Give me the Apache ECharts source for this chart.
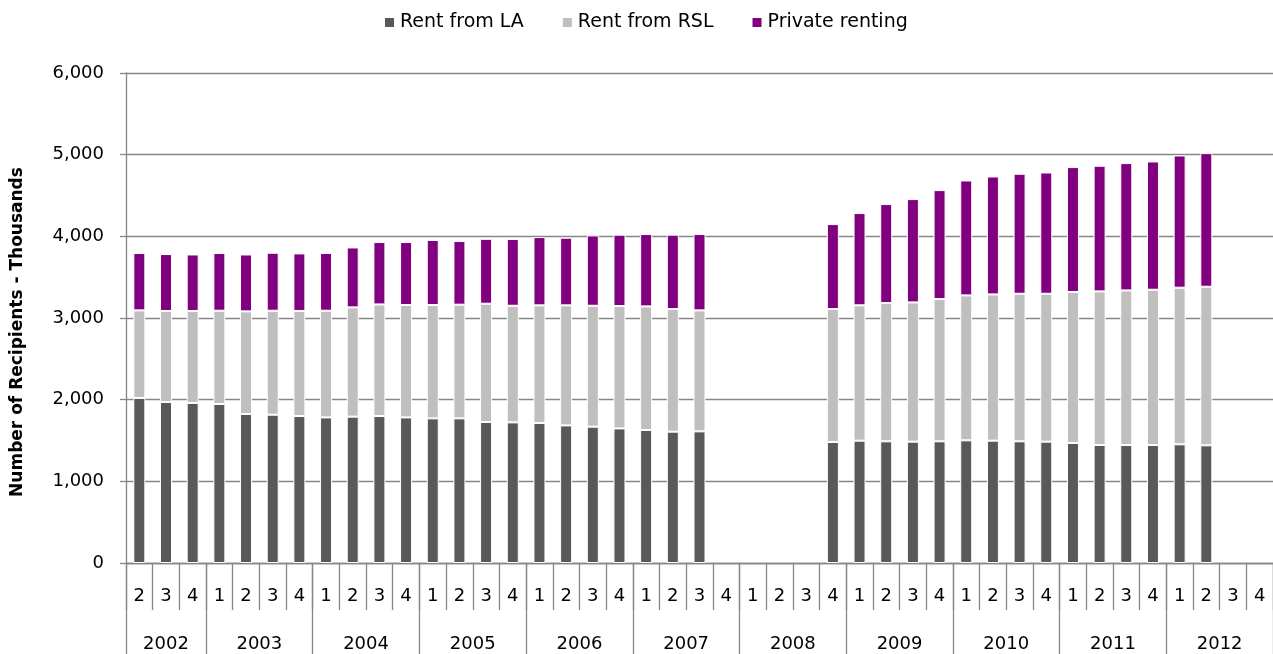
<!DOCTYPE html>
<html>
<head>
<meta charset="utf-8">
<title>Housing benefit recipients by tenure</title>
<script src="https://cdn.jsdelivr.net/npm/echarts@6/dist/echarts.min.js"></script>
<style>
  html, body { margin: 0; padding: 0; background: #ffffff; }
  #chart { width: 1273px; height: 654px; }
</style>
</head>
<body>
<div id="chart"></div>
<script>
// Quarters from 2002 Q2 to 2012 Q4
const years = ['2002', '2003', '2004', '2005', '2006', '2007', '2008', '2009', '2010', '2011', '2012'];
const quartersPerYear = [3, 4, 4, 4, 4, 4, 4, 4, 4, 4, 4];
const quarterLabels = [
  '2', '3', '4',
  '1', '2', '3', '4',  '1', '2', '3', '4',  '1', '2', '3', '4',
  '1', '2', '3', '4',  '1', '2', '3', '4',  '1', '2', '3', '4',
  '1', '2', '3', '4',  '1', '2', '3', '4',  '1', '2', '3', '4',
  '1', '2', '3', '4'
];

// Recipients, thousands (null = no figure for that quarter)
const rentFromLA = [
  2021, 1972, 1960,
  1947, 1825, 1816, 1800,
  1783, 1792, 1800, 1783,
  1771, 1771, 1727, 1722,
  1715, 1685, 1669, 1648,
  1629, 1608, 1612, null,
  null, null, null, 1482,
  1498, 1490, 1486, 1490,
  1502, 1498, 1490, 1486,
  1470, 1445, 1445, 1445,
  1453, 1441, null, null
];
const rentFromRSL = [
  1072, 1114, 1126,
  1142, 1256, 1273, 1286,
  1306, 1338, 1366, 1376,
  1388, 1392, 1448, 1428,
  1440, 1470, 1481, 1498,
  1513, 1502, 1481, null,
  null, null, null, 1628,
  1657, 1693, 1705, 1742,
  1775, 1791, 1807, 1811,
  1848, 1881, 1893, 1901,
  1918, 1942, null, null
];
const privateRenting = [
  703, 697, 692,
  707, 697, 710, 705,
  707, 734, 764, 771,
  796, 779, 795, 817,
  836, 828, 861, 874,
  886, 910, 935, null,
  null, null, null, 1040,
  1130, 1212, 1265, 1334,
  1407, 1444, 1469, 1485,
  1530, 1538, 1559, 1571,
  1619, 1636, null, null
];

// Year row: half-quarter slots so each year label sits in the middle of its span
const yearSlots = [];
const yearBoundary = {};
const yearCentre = {};
(function () {
  let slot = 0;
  yearBoundary[0] = true;
  years.forEach(function (y, i) {
    const span = quartersPerYear[i] * 2;
    yearCentre[slot + span / 2] = y;
    slot += span;
    yearBoundary[slot] = true;
  });
  for (let k = 0; k <= slot; k++) {
    yearSlots.push(yearCentre[k] || '');
  }
})();

const FONT = 'DejaVu Sans';
const AXIS_GREY = '#868686';

const chart = echarts.init(document.getElementById('chart'), null, { renderer: 'canvas' });

function barSeries(name, data, colour) {
  return {
    name: name,
    type: 'bar',
    stack: 'tenure',
    data: data,
    barWidth: 12,
    xAxisIndex: 0,
    itemStyle: { color: colour, borderColor: '#ffffff', borderWidth: 1 },
    emphasis: { disabled: true }
  };
}

chart.setOption({
  animation: false,
  textStyle: { fontFamily: FONT },
  legend: {
    left: 378,
    top: 8,
    icon: 'rect',
    itemWidth: 11,
    itemHeight: 11,
    itemGap: 37,
    textStyle: { fontFamily: FONT, fontSize: 19, color: '#000000' },
    data: ['Rent from LA', 'Rent from RSL', 'Private renting']
  },
  grid: { left: 126, right: 0, top: 73, bottom: 91, containLabel: false },
  xAxis: [
    {
      type: 'category',
      data: quarterLabels,
      boundaryGap: true,
      position: 'bottom',
      axisLine: { show: true, lineStyle: { color: AXIS_GREY, width: 1.3 } },
      axisTick: { show: true, interval: 0, length: 47, lineStyle: { color: AXIS_GREY, width: 1.3 } },
      axisLabel: { interval: 0, margin: 24, fontFamily: FONT, fontSize: 18, color: '#000000' },
      splitLine: { show: false }
    },
    {
      type: 'category',
      data: yearSlots,
      boundaryGap: false,
      position: 'bottom',
      axisLine: { show: false },
      axisTick: {
        show: true,
        length: 91,
        interval: function (idx) { return !!yearBoundary[idx]; },
        lineStyle: { color: AXIS_GREY, width: 1.3 }
      },
      axisLabel: {
        margin: 72,
        interval: function (idx) { return !!yearCentre[idx]; },
        fontFamily: FONT, fontSize: 18, color: '#000000'
      },
      splitLine: { show: false }
    }
  ],
  yAxis: {
    type: 'value',
    min: 0,
    max: 6000,
    interval: 1000,
    name: 'Number of Recipients - Thousands',
    nameLocation: 'middle',
    nameGap: 100,
    nameTextStyle: {
      fontFamily: FONT, fontSize: 17, fontWeight: 'bold', color: '#000000',
      padding: [0, 28, 0, 0]
    },
    axisLine: { show: true, lineStyle: { color: AXIS_GREY, width: 1.3 } },
    axisTick: { show: true, length: 6, lineStyle: { color: AXIS_GREY, width: 1.3 } },
    axisLabel: {
      margin: 22,
      fontFamily: FONT, fontSize: 18, color: '#000000',
      formatter: function (v) { return v.toLocaleString('en-US'); }
    },
    splitLine: { show: true, lineStyle: { color: AXIS_GREY, width: 1.3 } }
  },
  series: [
    barSeries('Rent from LA', rentFromLA, '#595959'),
    barSeries('Rent from RSL', rentFromRSL, '#bfbfbf'),
    barSeries('Private renting', privateRenting, '#800080')
  ]
});
</script>
</body>
</html>
